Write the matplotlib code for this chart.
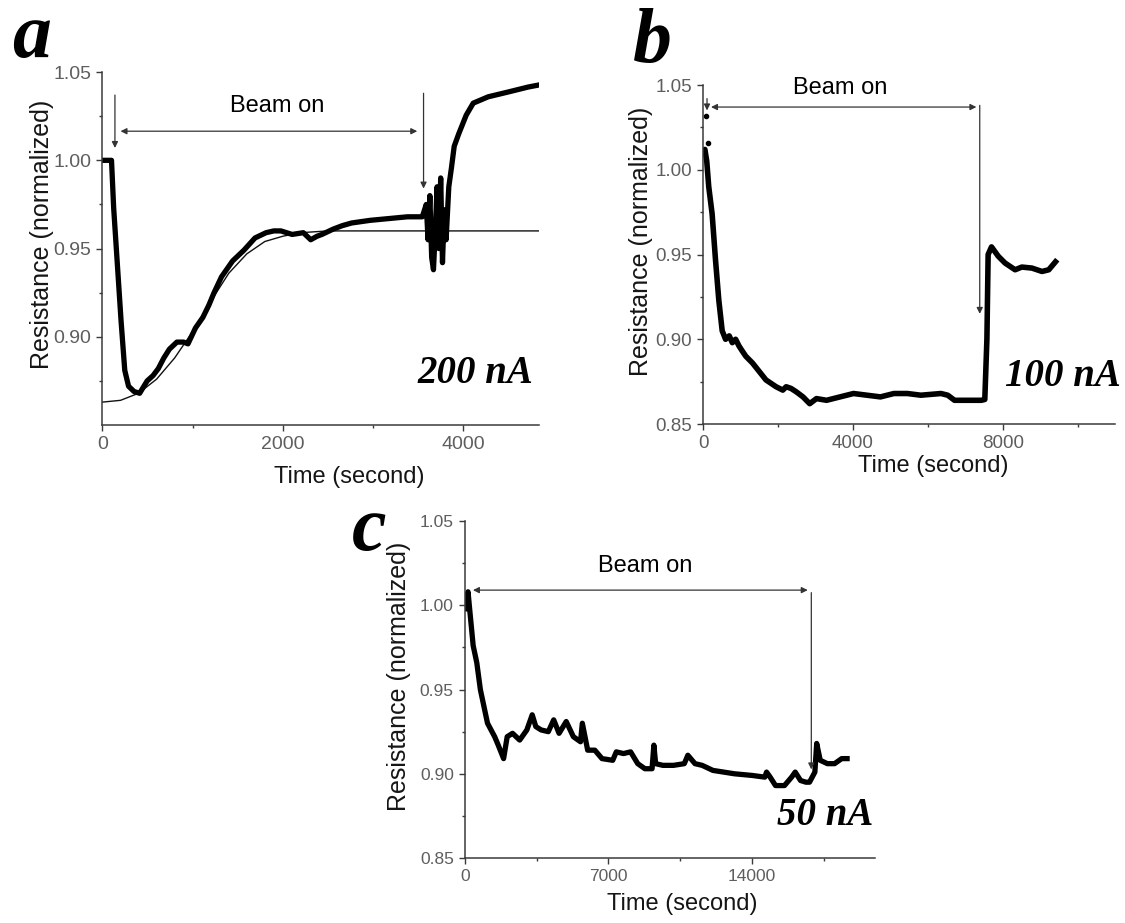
import matplotlib
matplotlib.use('Agg')
import matplotlib.pyplot as plt

plt.rcParams['font.family'] = ['Liberation Sans', 'DejaVu Sans']

# ---- panel a : 200 nA ----
a_time = [20, 60, 100, 124, 165, 206, 247, 289, 350, 412, 495, 560, 619, 680, 742,
          825, 900, 948, 1031, 1113, 1180, 1237, 1320, 1443, 1567, 1691, 1814, 1900,
          1979, 2103, 2227, 2309, 2380, 2433, 2557, 2660, 2763, 2969, 3175, 3381,
          3546, 3590, 3610, 3630, 3650, 3670, 3690, 3710, 3730, 3750, 3770, 3790,
          3810, 3840, 3870, 3900, 3950, 4033, 4111, 4277, 4497, 4718, 4829]
a_res = [1.000, 1.000, 1.000, 0.973, 0.941, 0.909, 0.881, 0.872, 0.869, 0.868, 0.875,
         0.878, 0.882, 0.888, 0.893, 0.897, 0.897, 0.896, 0.905, 0.911, 0.918, 0.925,
         0.934, 0.943, 0.949, 0.956, 0.959, 0.960, 0.960, 0.958, 0.959, 0.955, 0.957,
         0.958, 0.961, 0.963, 0.9645, 0.966, 0.967, 0.968, 0.968, 0.975, 0.955, 0.980,
         0.945, 0.938, 0.960, 0.985, 0.950, 0.990, 0.942, 0.972, 0.955, 0.985, 0.996,
         1.008, 1.015, 1.0256, 1.0324, 1.036, 1.0387, 1.0415, 1.0426]
a_fit_time = [0, 200, 400, 600, 800, 1000, 1200, 1400, 1600, 1800, 2000, 2200, 2500, 4840]
a_fit_res = [0.863, 0.864, 0.868, 0.876, 0.888, 0.903, 0.920, 0.936, 0.947, 0.954,
             0.957, 0.959, 0.960, 0.960]

# ---- panel b : 100 nA ----
b_time = [0, 50, 100, 153, 243, 333, 422, 512, 602, 700, 782, 870, 962, 1050, 1142,
          1321, 1501, 1681, 1951, 2130, 2220, 2350, 2490, 2670, 2849, 3029, 3299,
          3658, 4018, 4378, 4737, 5097, 5456, 5816, 6355, 6535, 6715, 7074, 7434,
          7524, 7580, 7613, 7703, 7883, 8063, 8333, 8512, 8782, 9052, 9232, 9411]
b_res = [1.010, 1.012, 1.005, 0.990, 0.974, 0.947, 0.923, 0.905, 0.900, 0.902, 0.898,
         0.900, 0.896, 0.893, 0.890, 0.886, 0.881, 0.876, 0.872, 0.870, 0.872, 0.871,
         0.869, 0.866, 0.862, 0.865, 0.864, 0.866, 0.868, 0.867, 0.866, 0.868, 0.868,
         0.867, 0.868, 0.867, 0.864, 0.864, 0.864, 0.8645, 0.900, 0.950, 0.9545,
         0.949, 0.945, 0.941, 0.9426, 0.942, 0.940, 0.941, 0.9457]
b_spike_time = [80, 120]
b_spike_res = [1.032, 1.016]

# ---- panel c : 50 nA ----
c_time = [0, 87, 150, 227, 401, 576, 751, 925, 1100, 1274, 1449, 1623, 1885, 2060,
          2321, 2670, 3019, 3281, 3456, 3718, 4067, 4329, 4591, 4940, 5289, 5638,
          5726, 5987, 6336, 6685, 7209, 7383, 7732, 8081, 8430, 8779, 9128, 9216,
          9303, 9652, 10176, 10700, 10874, 11223, 11572, 12096, 12620, 13143, 14016,
          14627, 14714, 14889, 15151, 15587, 15936, 16111, 16373, 16635, 16810,
          17071, 17159, 17333, 17682, 18031, 18380, 18642]
c_res = [0.998, 1.005, 1.008, 0.998, 0.976, 0.966, 0.950, 0.940, 0.930, 0.926, 0.922,
         0.917, 0.909, 0.922, 0.924, 0.920, 0.926, 0.935, 0.928, 0.926, 0.925, 0.932,
         0.924, 0.931, 0.922, 0.919, 0.930, 0.914, 0.914, 0.909, 0.908, 0.913, 0.912,
         0.913, 0.906, 0.903, 0.903, 0.917, 0.906, 0.905, 0.905, 0.906, 0.911, 0.906,
         0.905, 0.902, 0.901, 0.900, 0.899, 0.898, 0.901, 0.898, 0.893, 0.893, 0.898,
         0.901, 0.896, 0.895, 0.895, 0.901, 0.918, 0.908, 0.906, 0.906, 0.909, 0.909]

tick_grey = '#5e5e5e'
axis_grey = '#3a3a3a'


def style_axes(ax, xlim, xmajor, xminor, yticks, ylabel_x, xlabel_pos, tick_size):
    ax.set_xlim(*xlim)
    ax.set_ylim(0.85, 1.05)
    ax.set_xticks(xmajor)
    ax.set_xticks(xminor, minor=True)
    ax.set_yticks(yticks)
    ax.set_yticks([0.875, 0.925, 0.975, 1.025], minor=True)
    ax.set_yticklabels(['%.2f' % v for v in yticks])
    for s in ['top', 'right']:
        ax.spines[s].set_visible(False)
    for s in ['left', 'bottom']:
        ax.spines[s].set_color(axis_grey)
        ax.spines[s].set_linewidth(1.1)
    ax.tick_params(which='major', length=4, width=1, color=axis_grey,
                   labelsize=tick_size, labelcolor=tick_grey, pad=4)
    ax.tick_params(which='minor', length=2, width=1, color=axis_grey)
    ax.set_ylabel('Resistance (normalized)', fontsize=18, color='#151515')
    ax.set_xlabel('Time (second)', fontsize=17, color='#151515')
    ax.yaxis.set_label_coords(ylabel_x, 0.54)
    ax.xaxis.set_label_coords(*xlabel_pos)


def arrow(ax, start, end, style='-|>'):
    ax.annotate('', xy=end, xytext=start,
                arrowprops=dict(arrowstyle=style, lw=0.9, color='#333333',
                                mutation_scale=9, shrinkA=0, shrinkB=0))


big = dict(family='Liberation Serif', fontweight='bold', fontstyle='italic')

fig = plt.figure(figsize=(11.25, 9.23), dpi=100)

# panel a
ax_a = fig.add_axes([0.0911, 0.5395, 0.388, 0.3824])
ax_a.plot(a_fit_time, a_fit_res, color='#111111', lw=1.0)
ax_a.plot(a_time, a_res, color='black', lw=3.8)
style_axes(ax_a, (0, 4840), [0, 2000, 4000], [1000, 3000],
           [0.90, 0.95, 1.00, 1.05], -0.112, (0.566, -0.116), 14)
arrow(ax_a, (138, 1.037), (138, 1.007))
arrow(ax_a, (200, 1.0165), (3490, 1.0165), '<|-|>')
arrow(ax_a, (3560, 1.038), (3560, 0.984))
ax_a.text(1940, 1.0305, 'Beam on', fontsize=17, ha='center', va='center')
ax_a.text(4780, 0.874, '200 nA', fontsize=28, ha='right', va='baseline', **big)

# panel b
ax_b = fig.add_axes([0.6249, 0.5406, 0.3662, 0.3673])
ax_b.plot(b_time, b_res, color='black', lw=4.0)
ax_b.plot(b_spike_time, b_spike_res, 'o', color='black', ms=3)
style_axes(ax_b, (0, 11000), [0, 4000, 8000], [2000, 6000, 10000],
           [0.85, 0.90, 0.95, 1.00, 1.05], -0.122, (0.558, -0.091), 13.5)
arrow(ax_b, (107, 1.042), (107, 1.035))
arrow(ax_b, (214, 1.037), (7299, 1.037), '<|-|>')
arrow(ax_b, (7389, 1.038), (7389, 0.915))
ax_b.text(3658, 1.048, 'Beam on', fontsize=17, ha='center', va='center')
ax_b.text(11160, 0.8725, '100 nA', fontsize=28, ha='right', va='baseline', **big)

# panel c
ax_c = fig.add_axes([0.4133, 0.0704, 0.3644, 0.3651])
ax_c.plot(c_time, c_res, color='black', lw=3.8)
style_axes(ax_c, (0, 20000), [0, 7000, 14000], [3500, 10500, 17500],
           [0.85, 0.90, 0.95, 1.00, 1.05], -0.132, (0.53, -0.104), 12.5)
arrow(ax_c, (390, 1.009), (16722, 1.009), '<|-|>')
arrow(ax_c, (16897, 1.0075), (16897, 0.9026))
ax_c.text(8779, 1.0234, 'Beam on', fontsize=17, ha='center', va='center')
ax_c.text(19900, 0.8696, '50 nA', fontsize=28, ha='right', va='baseline', **big)

# panel letters
fig.text(12 / 1125, 1 - 57 / 923, 'a', fontsize=56, va='baseline', **big)
fig.text(633 / 1125, 1 - 62 / 923, 'b', fontsize=56, va='baseline', **big)
fig.text(352 / 1125, 1 - 550 / 923, 'c', fontsize=56, va='baseline', **big)

fig.savefig('out.png', dpi=100)
